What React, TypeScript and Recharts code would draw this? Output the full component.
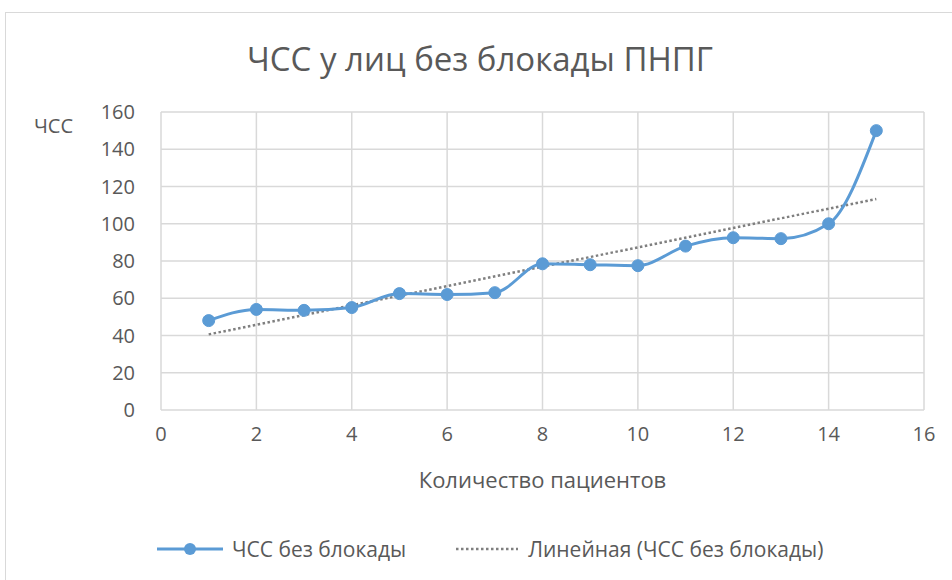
import { LineChart, Line, XAxis, YAxis, CartesianGrid } from 'recharts'

const patients = [1, 2, 3, 4, 5, 6, 7, 8, 9, 10, 11, 12, 13, 14, 15]
const hr = [48, 54, 53.5, 55, 62.5, 62, 63, 78.5, 78, 77.5, 88, 92.5, 92, 100, 150]

// trend line ends
const trendX = [1, 15]
const trendY = [40.6, 113.3]

const xTicks = [0, 2, 4, 6, 8, 10, 12, 14, 16]
const yTicks = [0, 20, 40, 60, 80, 100, 120, 140, 160]

const title = 'ЧСС у лиц без блокады ПНПГ'
const xTitle = 'Количество пациентов'
const yTitle = 'ЧСС'
const seriesName = 'ЧСС без блокады'
const trendName = 'Линейная (ЧСС без блокады)'

const data = patients.map((p, i) => ({ x: p, y: hr[i] }))
const trend = trendX.map((p, i) => ({ x: p, y: trendY[i] }))

const FONT = "'Open Sans', sans-serif"
const TEXT = '#595959'
const BLUE = '#5b9bd5'
const GRAY = '#7f7f7f'

export default function App() {
  return (
    <div style={{ position: 'absolute', left: 0, top: 0, width: 952, height: 580, background: '#fff', overflow: 'hidden' }}>
      <div style={{ position: 'absolute', left: 5, top: 12, width: 980, height: 600, border: '1px solid #d9d9d9' }} />
      <div style={{ position: 'absolute', left: 0, top: 36, width: 960, textAlign: 'center', fontFamily: FONT, fontSize: 33, color: TEXT }}>
        {title}
      </div>
      <div style={{ position: 'absolute', left: 34, top: 112, fontFamily: FONT, fontSize: 20, color: TEXT }}>{yTitle}</div>
      <LineChart
        width={952}
        height={580}
        margin={{ top: 112, right: 28, left: 101, bottom: 140 }}
        style={{ position: 'absolute', left: 0, top: 0 }}
      >
        <CartesianGrid stroke="#d9d9d9" strokeWidth={1.5} />
        <XAxis
          type="number"
          dataKey="x"
          domain={[0, 16]}
          ticks={xTicks}
          height={30}
          axisLine={false}
          tickLine={false}
          tickSize={0}
          tickMargin={17}
          tick={{ fill: TEXT, fontSize: 20, fontFamily: FONT }}
          label={{ value: xTitle, position: 'bottom', offset: 32, fill: TEXT, fontSize: 22, fontFamily: FONT }}
          allowDuplicatedCategory={false}
        />
        <YAxis
          type="number"
          domain={[0, 160]}
          ticks={yTicks}
          width={60}
          axisLine={false}
          tickLine={false}
          tickSize={0}
          tickMargin={26}
          tick={{ fill: TEXT, fontSize: 20, fontFamily: FONT }}
        />
        <Line
          data={trend}
          dataKey="y"
          name={trendName}
          type="linear"
          stroke={GRAY}
          strokeWidth={2.5}
          strokeDasharray="2.5 2.5"
          dot={false}
          isAnimationActive={false}
        />
        <Line
          data={data}
          dataKey="y"
          name={seriesName}
          type="monotone"
          stroke={BLUE}
          strokeWidth={3}
          dot={{ r: 6, fill: BLUE, stroke: BLUE, strokeWidth: 1 }}
          isAnimationActive={false}
        />
      </LineChart>
      <div style={{ position: 'absolute', left: 157, top: 535, display: 'flex', alignItems: 'center', fontFamily: FONT, fontSize: 21, color: TEXT }}>
        <svg width={66} height={14} style={{ marginRight: 9 }}>
          <line x1={0} y1={7} x2={66} y2={7} stroke={BLUE} strokeWidth={3} />
          <circle cx={33} cy={7} r={6} fill={BLUE} />
        </svg>
        <span>{seriesName}</span>
        <svg width={62} height={14} style={{ marginLeft: 50, marginRight: 10 }}>
          <line x1={0} y1={7} x2={62} y2={7} stroke={GRAY} strokeWidth={2.5} strokeDasharray="2.5 2.5" />
        </svg>
        <span>{trendName}</span>
      </div>
    </div>
  )
}
